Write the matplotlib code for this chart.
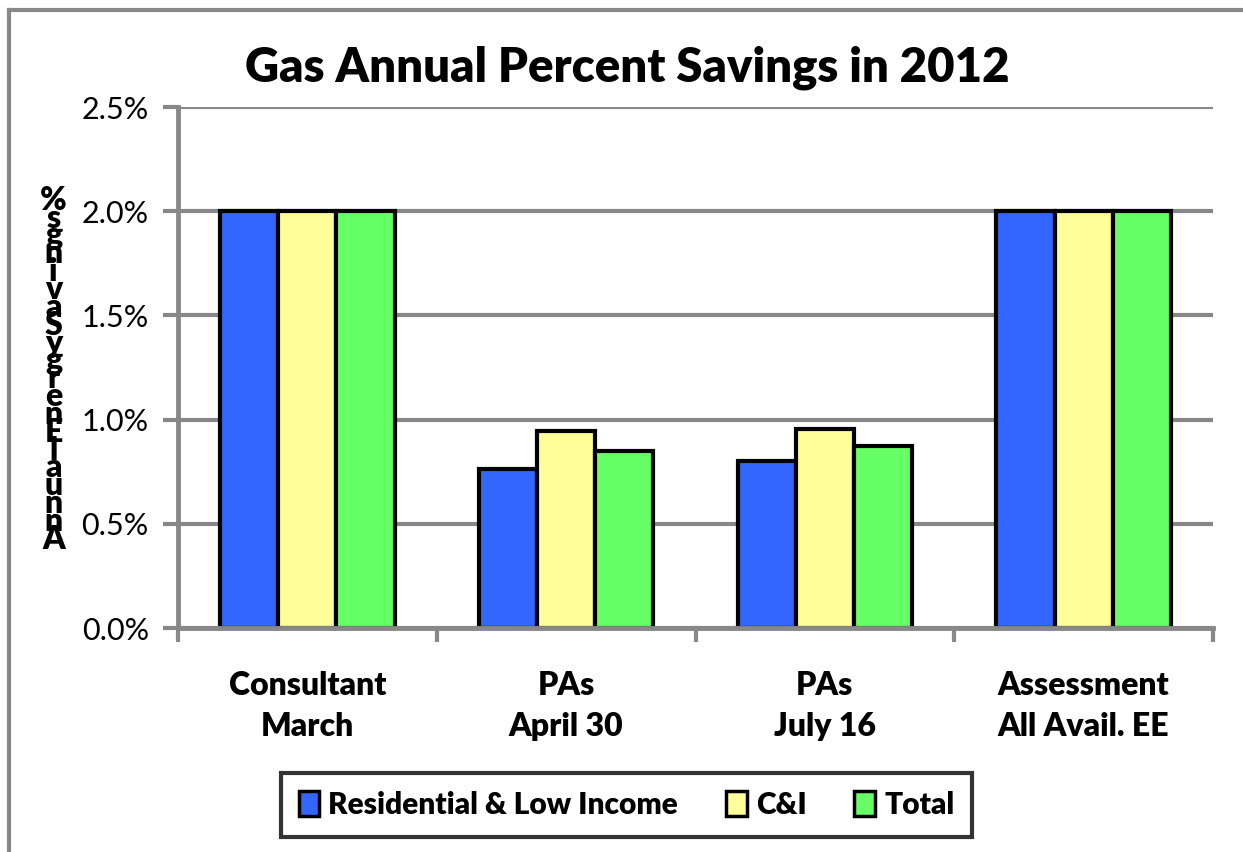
import numpy as np
import matplotlib
matplotlib.use("Agg")
import matplotlib.pyplot as plt
from matplotlib.lines import Line2D

plt.rcParams['font.family'] = ['Lato', 'DejaVu Sans']

# data
categories = ["Consultant\nMarch", "PAs\nApril 30", "PAs\nJuly 16", "Assessment\nAll Avail. EE"]
residential = [2.0, 0.765, 0.80, 2.0]
ci = [2.0, 0.945, 0.955, 2.0]
total = [2.0, 0.85, 0.872, 2.0]
series_names = ["Residential & Low Income", "C&I", "Total"]
colors = ["#3366FF", "#FFFF99", "#66FF66"]
yticks = [0.0, 0.5, 1.0, 1.5, 2.0, 2.5]

grey = "#888888"
bw = "heavy"

fig = plt.figure(figsize=(12.43, 8.52), dpi=100)
ax = fig.add_axes([0.1432, 0.2629, 0.8327, 0.6115])

x = np.arange(len(categories))
w = 0.225
for i, (vals, name, c) in enumerate(zip([residential, ci, total], series_names, colors)):
    ax.bar(x + (i - 1) * w, vals, w, color=c, edgecolor="black", linewidth=3,
           label=name, zorder=3)

ax.set_xlim(-0.5, len(categories) - 0.5)
ax.set_ylim(0, 2.5)
ax.set_yticks(yticks)
ax.set_yticklabels([f"{v:.1f}%" for v in yticks], fontsize=22)
ax.set_xticks(x)
ax.set_xticklabels(categories, fontsize=23, fontweight=bw, linespacing=1.5)
ax.set_xticks(np.arange(len(categories) + 1) - 0.5, minor=True)
ax.tick_params(axis="x", which="major", length=0, pad=31)
ax.tick_params(axis="x", which="minor", length=10, width=3, color=grey, direction="out")
ax.tick_params(axis="y", length=11, width=3, color=grey, direction="out", pad=10)

ax.grid(axis="y", color=grey, linewidth=3, zorder=0)
for s in ["top", "right"]:
    ax.spines[s].set_visible(False)
for s in ["left", "bottom"]:
    ax.spines[s].set_color(grey)
    ax.spines[s].set_linewidth(3.5)
    ax.spines[s].set_zorder(4)

fig.text(0.505, 0.92, "Gas Annual Percent Savings in 2012", ha="center", va="center",
         fontsize=34, fontweight=bw)

# stacked y label (letters upright, reversed order)
ylab = "AnnualEnergySavings%"
fig.text(0.043, 0.566, "\n".join(reversed(ylab)), ha="center", va="center",
         fontsize=23, fontweight=bw, linespacing=0.535)

# legend
leg = fig.legend(loc="center", bbox_to_anchor=(0.504, 0.055), ncol=3,
                 prop={"weight": bw, "size": 21.5}, frameon=True, fancybox=False,
                 handlelength=0.7, handleheight=0.9, handletextpad=0.3, columnspacing=1.6,
                 borderpad=0.6)
leg.get_frame().set_edgecolor("black")
leg.get_frame().set_linewidth(3)
for h in leg.legend_handles:
    h.set_linewidth(2.5)

# chart border
fig.add_artist(Line2D([0.0075, 0.0075], [0.0, 0.988], transform=fig.transFigure,
                      color=grey, linewidth=3))
fig.add_artist(Line2D([0.0075, 1.0], [0.988, 0.988], transform=fig.transFigure,
                      color=grey, linewidth=3))

fig.savefig("out.png", dpi=100, facecolor="white")
